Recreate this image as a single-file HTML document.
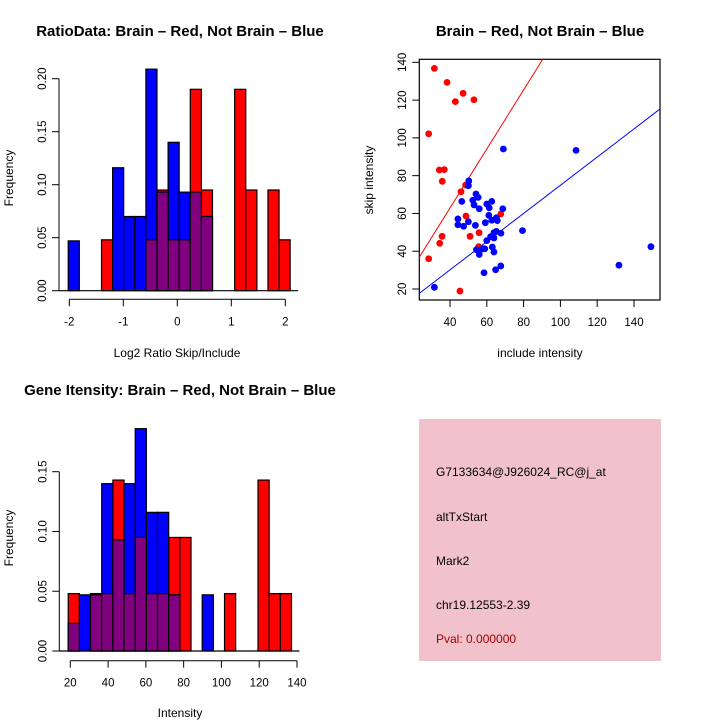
<!DOCTYPE html>
<html><head><meta charset="utf-8"><style>
body{margin:0;background:#fff;}
svg{display:block;font-family:"Liberation Sans",sans-serif;}
</style></head><body>
<svg id="c" width="720" height="720" xmlns="http://www.w3.org/2000/svg">
<rect width="720" height="720" fill="#fff"/>
<text x="180" y="36" font-size="15" font-weight="bold" text-anchor="middle">RatioData: Brain – Red, Not Brain – Blue</text>
<text x="540" y="36" font-size="15" font-weight="bold" text-anchor="middle">Brain – Red, Not Brain – Blue</text>
<text x="180" y="395" font-size="15" font-weight="bold" text-anchor="middle">Gene Itensity: Brain – Red, Not Brain – Blue</text>
<text x="177" y="357" font-size="12" text-anchor="middle">Log2 Ratio Skip/Include</text>
<text x="13" y="178" font-size="12" text-anchor="middle" transform="rotate(-90 13 178)">Frequency</text>
<text x="540" y="357" font-size="12" text-anchor="middle">include intensity</text>
<text x="373" y="180" font-size="12" text-anchor="middle" transform="rotate(-90 373 180)">skip intensity</text>
<text x="180" y="717" font-size="12" text-anchor="middle">Intensity</text>
<text x="13" y="538" font-size="12" text-anchor="middle" transform="rotate(-90 13 538)">Frequency</text>
<rect x="419" y="419" width="242" height="242" fill="#f2c2cc"/>
<text x="436" y="476" font-size="12">G7133634@J926024_RC@j_at</text>
<text x="436" y="521" font-size="12">altTxStart</text>
<text x="436" y="565" font-size="12">Mark2</text>
<text x="436" y="609" font-size="12">chr19.12553-2.39</text>
<text x="436" y="643" font-size="12" fill="#a00000">Pval: 0.000000</text>
</svg>
<script>
// Ratio histogram data
const ratioBinStart = -2.02, ratioBinWidth = 0.2055;
const ratioRed  = [0,0,0,.048,0,0,0,.048,.095,.048,.048,.19,.095,0,0,.19,.095,0,.095,.048];
const ratioBlue = [.047,0,0,0,.116,.07,.07,.209,.093,.14,.093,.093,.07,0,0,0,0,0,0,0];
const ratioXTicks = [-2,-1,0,1,2];
const ratioYTicks = ["0.00","0.05","0.10","0.15","0.20"];
// Intensity histogram data
const intBinStart = 18.9, intBinWidth = 5.91;
const intRed  = [.048,0,.048,.048,.143,.048,.095,.048,.048,.095,.095,0,0,0,.048,0,0,.143,.048,.048];
const intBlue = [.023,.047,.047,.14,.093,.14,.186,.116,.116,.047,0,0,.047,0,0,0,0,0,0,0];
const intXTicks = [20,40,60,80,100,120,140];
const intYTicks = ["0.00","0.05","0.10","0.15"];
// Scatter data
const redX = [31.5,28.4,38.4,42.9,47.1,53,34.2,36.9,35.8,46,48.5,48.7,35.7,34.4,50.9,55.8,55.6,67.6,28.4,45.4];
const redY = [136.8,102.2,129.4,119.2,123.6,120.2,83,83.2,77,71.5,75,58.6,47.9,44.2,47.9,49.8,42.4,59.7,36,18.9];
const blueX = [31.5,69,108.5,149.2,131.8,79.4,68.7,61.1,65.7,63.9,63.9,57.7,54.4,55.9,54.1,55.3,53.1,55.9,50.2,50,46.4,52.4,60,62.7,61.3,44.3,44.3,47.4,50,53.8,59.2,62.7,65.2,65.2,67.7,60,62.1,63.9,63,58.9,58.5,64.8,67.6];
const blueY = [20.9,94.1,93.4,42.4,32.6,50.9,62.5,59,56.2,49.8,39.6,41.2,40.8,38.3,70.3,68.5,64.5,62.5,77.2,74.7,66.4,67,65,66.4,63,57.1,54,53.2,55.6,53.7,55.1,56.4,57.7,50.5,49.5,45.6,47.7,47,42.2,41.3,28.6,30.2,32.2];
const fitSlope = [1.562, 0.746];
const fitIntercept = [0.4, 0.3];
const scXTicks = [40,60,80,100,120,140];
const scYTicks = [20,40,60,80,100,120,140];

const svg = document.getElementById('c');
const NS = 'http://www.w3.org/2000/svg';
function mk(tag, attrs){const e=document.createElementNS(NS,tag);for(const k in attrs)e.setAttribute(k,attrs[k]);svg.appendChild(e);return e;}

function hist(prefix, red, blue, bs, bw, xs, ys, yAxisX, xAxisY, xTicks, yTicks){
  const n = red.length;
  const layers = [["red",red,"#ff0000"],["blue",blue,"#0000ff"],["overlap",red.map((v,i)=>Math.min(v,blue[i])),"#800080"]];
  layers.forEach(([nm,arr,col])=>{
    arr.forEach((v,i)=>{
      if(v<=0) return;
      const x0 = xs(bs+i*bw), x1 = xs(bs+(i+1)*bw);
      const r = mk('rect',{x:x0,y:ys(v),width:x1-x0,height:ys(0)-ys(v),fill:col,stroke:'#000','stroke-width':1.2});
      
      
    });
  });
  const ya = mk('line',{x1:yAxisX,x2:yAxisX,y1:ys(0),y2:ys(parseFloat(yTicks[yTicks.length-1])),stroke:'#000'});
  
  
  yTicks.forEach(t=>{
    const y = ys(parseFloat(t));
    mk('line',{x1:yAxisX-7,x2:yAxisX,y1:y,y2:y,stroke:'#000'});
    const tx = mk('text',{x:yAxisX-13,y:y,'font-size':11.5,'text-anchor':'middle',transform:`rotate(-90 ${yAxisX-13} ${y})`});
    tx.textContent = t;
    
    
  });
  const xa = mk('line',{x1:xs(xTicks[0]),x2:xs(xTicks[xTicks.length-1]),y1:xAxisY,y2:xAxisY,stroke:'#000'});
  
  
  xTicks.forEach(t=>{
    const x = xs(t);
    mk('line',{x1:x,x2:x,y1:xAxisY,y2:xAxisY+7,stroke:'#000'});
    const tx = mk('text',{x:x,y:xAxisY+26,'font-size':11.5,'text-anchor':'middle'});
    tx.textContent = t;
    
    
  });
  mk('line',{x1:yAxisX,x2:xs(bs+n*bw)+8,y1:ys(0),y2:ys(0),stroke:'#000','stroke-width':1.2});
}

hist('ratio', ratioRed, ratioBlue, ratioBinStart, ratioBinWidth,
  v=>177.3+54*v, v=>290.7-v*(212/0.2), 59, 299.3, ratioXTicks, ratioYTicks);
hist('intensity', intRed, intBlue, intBinStart, intBinWidth,
  v=>70.3+(v-20)*1.889, v=>651-v*(179.3/0.15), 59.3, 660.7, intXTicks, intYTicks);

const sx = v=>450+(v-40)*1.84, sy = v=>289-(v-20)*1.889;
const X0=23.3, X1=154.1;
const clip = mk('clipPath',{id:'sc'});
const cr = document.createElementNS(NS,'rect');
cr.setAttribute('x',419.3);cr.setAttribute('y',59.3);cr.setAttribute('width',240.7);cr.setAttribute('height',240.7);
clip.appendChild(cr);
const box = mk('rect',{x:419.3,y:59.3,width:240.7,height:240.7,fill:'none',stroke:'#000','stroke-width':1.2});


['#ff0000','#0000ff'].forEach((col,k)=>{
  const l = mk('line',{x1:sx(X0),y1:sy(fitSlope[k]*X0+fitIntercept[k]),x2:sx(X1),y2:sy(fitSlope[k]*X1+fitIntercept[k]),stroke:col,'stroke-width':1,'clip-path':'url(#sc)'});
  
  
});
redX.forEach((x,i)=>{
  const c = mk('circle',{cx:sx(x),cy:sy(redY[i]),r:3.4,fill:'#ff0000'});
  
  
});
blueX.forEach((x,i)=>{
  const c = mk('circle',{cx:sx(x),cy:sy(blueY[i]),r:3.4,fill:'#0000ff'});
  
  
});
scXTicks.forEach(t=>{
  const x=sx(t);
  mk('line',{x1:x,x2:x,y1:300,y2:307,stroke:'#000'});
  const tx = mk('text',{x:x,y:326,'font-size':11.5,'text-anchor':'middle'});
  tx.textContent=t;
  
  
});
scYTicks.forEach(t=>{
  const y=sy(t);
  mk('line',{x1:412.3,x2:419.3,y1:y,y2:y,stroke:'#000'});
  const tx = mk('text',{x:406,y:y,'font-size':11.5,'text-anchor':'middle',transform:`rotate(-90 406 ${y})`});
  tx.textContent=t;
  
  
});
</script>
</body></html>
